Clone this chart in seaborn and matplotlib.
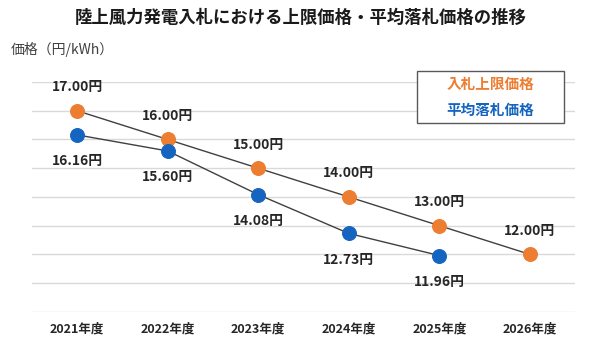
import pandas as pd
import seaborn as sns
import matplotlib.pyplot as plt
from matplotlib.patches import Rectangle

# data
years = ['2021年度', '2022年度', '2023年度', '2024年度', '2025年度', '2026年度']
upper_price = [17.00, 16.00, 15.00, 14.00, 13.00, 12.00]
avg_price = [16.16, 15.60, 14.08, 12.73, 11.96]
series_names = ['入札上限価格', '平均落札価格']

orange = '#ED7D31'
blue = '#1565C0'

df_up = pd.DataFrame({'year': years, 'price': upper_price})
df_avg = pd.DataFrame({'year': years[:len(avg_price)], 'price': avg_price})

sns.set_theme(style='white')
plt.rcParams['font.family'] = ['Noto Sans CJK JP', 'DejaVu Sans']

W, H = 590, 352
fig = plt.figure(figsize=(W / 100, H / 100), dpi=100)
ax = fig.add_axes([0.054, 0.114, 0.921, 0.653])

sns.lineplot(data=df_up, x='year', y='price', ax=ax, color='#404040', lw=1,
             marker='o', markersize=10, markerfacecolor=orange, markeredgecolor=orange)
sns.lineplot(data=df_avg, x='year', y='price', ax=ax, color='#404040', lw=1,
             marker='o', markersize=10, markerfacecolor=blue, markeredgecolor=blue)

ax.set_xlim(-0.5, 5.5)
ax.set_ylim(10, 18)
ax.set_yticks(range(10, 19))
ax.set_yticklabels([])
ax.yaxis.grid(True, color='#d9d9d9', lw=1)
ax.set_axisbelow(True)
for s in ax.spines.values():
    s.set_visible(False)
ax.tick_params(axis='x', length=0, pad=8)
for lbl in ax.get_xticklabels():
    lbl.set_fontsize(9)
    lbl.set_fontweight('bold')
    lbl.set_color('#262626')
ax.tick_params(axis='y', length=0)
ax.set_xlabel('')
ax.set_ylabel('')

# data labels
for i, v in enumerate(upper_price):
    ax.annotate(f'{v:.2f}円', (i, v), xytext=(0, 17), textcoords='offset points',
                ha='center', va='center', fontsize=10, fontweight='bold', color='#262626')
for i, v in enumerate(avg_price):
    ax.annotate(f'{v:.2f}円', (i, v), xytext=(0, -19), textcoords='offset points',
                ha='center', va='center', fontsize=10, fontweight='bold', color='#262626')

# legend box (text only)
fig.patches.append(Rectangle((417 / W, 1 - 123 / H), 147 / W, 52 / H, transform=fig.transFigure,
                             facecolor='white', edgecolor='#595959', lw=1, zorder=5))
fig.text(490 / W, 1 - 84 / H, series_names[0], ha='center', va='center', fontsize=10.5,
         fontweight='bold', color=orange, zorder=6)
fig.text(490 / W, 1 - 110 / H, series_names[1], ha='center', va='center', fontsize=10.5,
         fontweight='bold', color=blue, zorder=6)

fig.text(0.51, 0.948, '陸上風力発電入札における上限価格・平均落札価格の推移',
         ha='center', va='center', fontsize=12.5, fontweight='bold', color='#1a1a1a')
fig.text(0.018, 0.858, '価格（円/kWh）', ha='left', va='center', fontsize=10, color='#404040')

plt.savefig('out.png', dpi=100, facecolor='w')
